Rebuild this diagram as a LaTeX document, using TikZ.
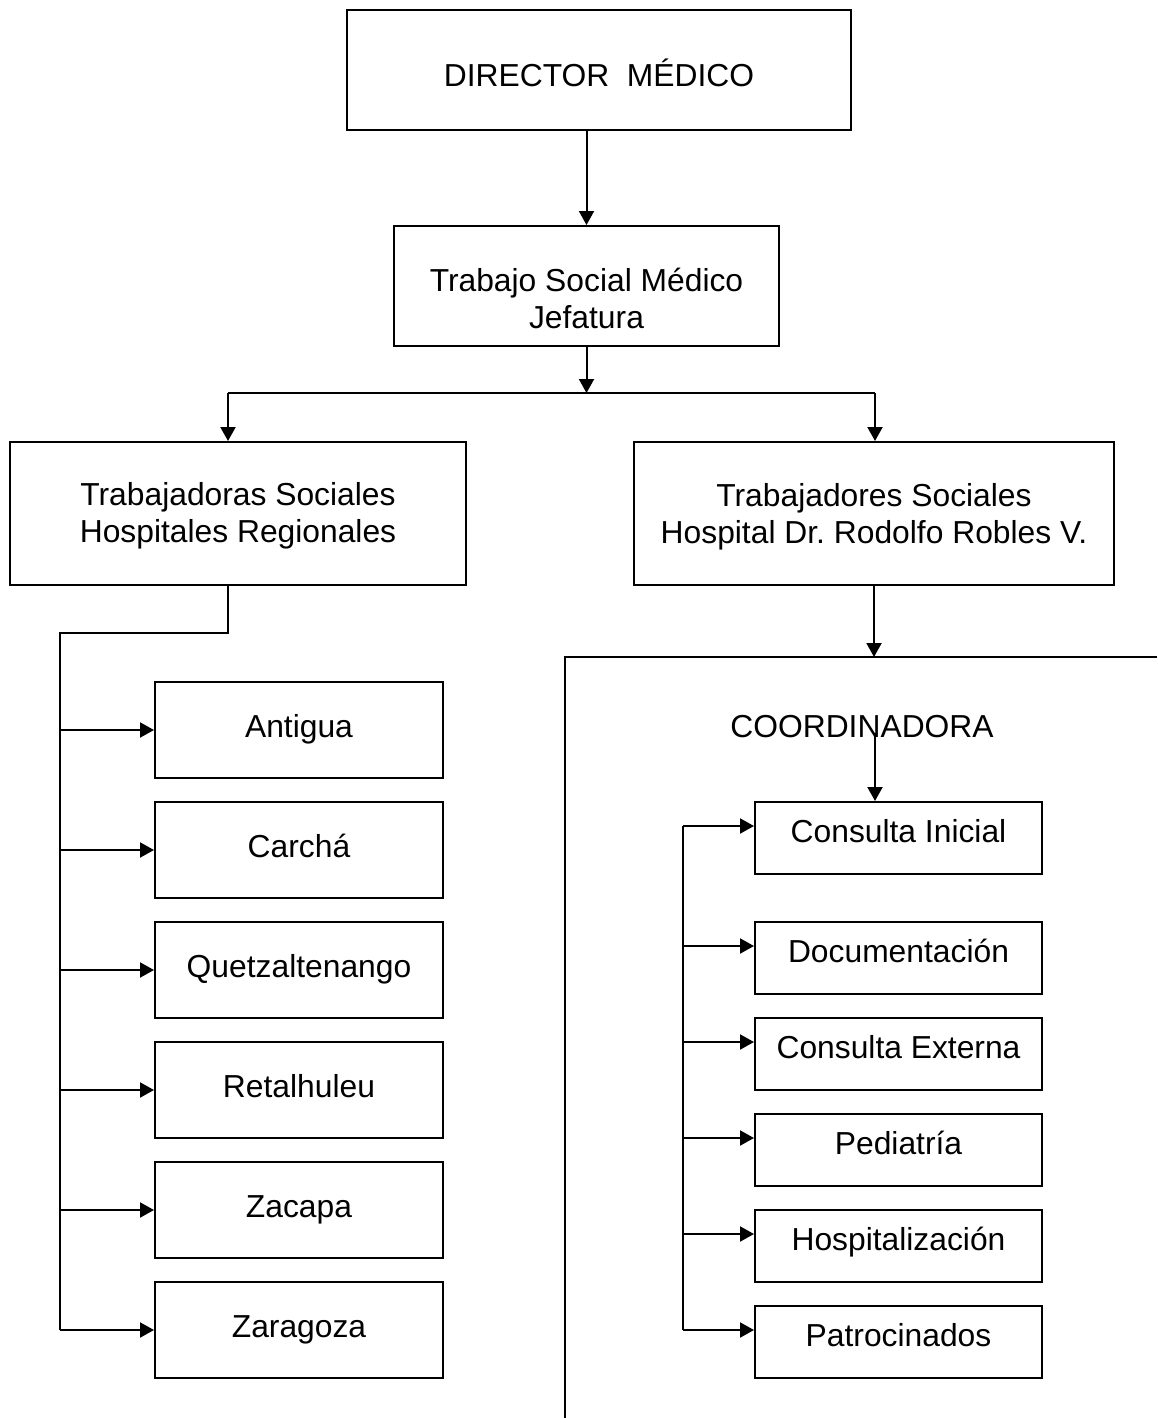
\documentclass[tikz,border=0pt]{standalone}
\usepackage{fontspec}
\setmainfont{Liberation Sans}
\usetikzlibrary{arrows.meta, calc}

\tikzset{
	chartfont/.style={font=\fontsize{15.9pt}{18.3pt}\selectfont},
	box/.style={draw, line width=1pt, inner sep=0pt, align=center, chartfont},
	hosp/.style={box, minimum width=144pt, minimum height=48pt, text height=12pt, text depth=5pt},
	area/.style={box, minimum width=143.5pt, minimum height=36pt, text height=12pt, text depth=8pt},
	wire/.style={line width=1pt},
	link/.style={wire, -{Triangle[length=7pt,width=7.5pt]}}
}

\begin{document}
\begin{tikzpicture}[x=0.5pt, y=-0.5pt]
	\useasboundingbox (0,0) rectangle (1157,1418);

	\node[box, minimum width=252pt, minimum height=60pt, text height=20pt, text depth=3pt] (DM) at (599,70) {DIRECTOR\ \ MÉDICO};
	\node[box, minimum width=192.5pt, minimum height=60pt, text height=45pt, text depth=3pt] (TSM) at (586.5,286) {Trabajo Social Médico\\Jefatura};
	\node[box, minimum width=228pt, minimum height=71.5pt, text height=32pt, text depth=3.5pt] (HR) at (238,513.5) {Trabajadoras Sociales\\Hospitales Regionales};
	\node[box, minimum width=240pt, minimum height=71.5pt, text height=33pt, text depth=3.5pt] (RR) at (874,513.5) {Trabajadores Sociales\\Hospital Dr.\ Rodolfo Robles V.};

	\coordinate (J) at (586.5,393);
	\coordinate (BL) at (228,393);
	\coordinate (BR) at (875,393);
	\coordinate (LT) at (60,633);
	\coordinate (LB) at (60,1330);
	\coordinate (FT) at (565,657);
	\coordinate (FB) at (565,1418);
	\coordinate (FR) at (1157,657);
	\coordinate (CA) at (875,733);
	\coordinate (RT) at (683,826);
	\coordinate (RB) at (683,1330);

	\draw[link] (DM.south -| TSM.north) -- (TSM.north);
	\draw[link] (TSM.south) -- (J);
	\draw[wire] (BL) -- (BR);
	\draw[link] (BL) -- (BL |- HR.north);
	\draw[link] (BR) -- (BR |- RR.north);

	\draw[wire] (BL |- HR.south) -- (BL |- LT) -- (LT) -- (LB);
	\foreach \name/\y/\txt in {ant/730/Antigua, car/850/Carchá, que/970/Quetzaltenango, ret/1090/Retalhuleu, zac/1210/Zacapa, zar/1330/Zaragoza}{
		\node[hosp] (\name) at (299,\y) {\txt};
		\draw[link] (\name.west -| LT) -- (\name.west);
	}

	\draw[wire] (FB) -- (FT) -- (FR);
	\draw[link] (RR.south) -- (RR.south |- FT);
	\node[chartfont, anchor=base, inner sep=0pt] (CO) at (862,737) {COORDINADORA};
	\draw[wire] (RT) -- (RB);
	\foreach \name/\y/\txt in {ini/838/Consulta Inicial, doc/958/Documentación, ext/1054/Consulta Externa, ped/1150/Pediatría, hos/1246/Hospitalización, pat/1342/Patrocinados}{
		\node[area] (\name) at (898.5,\y) {\txt};
		\draw[link] ([yshift=6pt]\name.west -| RT) -- ([yshift=6pt]\name.west);
	}
	\draw[link] (CA) -- (CA |- ini.north);
\end{tikzpicture}
\end{document}
